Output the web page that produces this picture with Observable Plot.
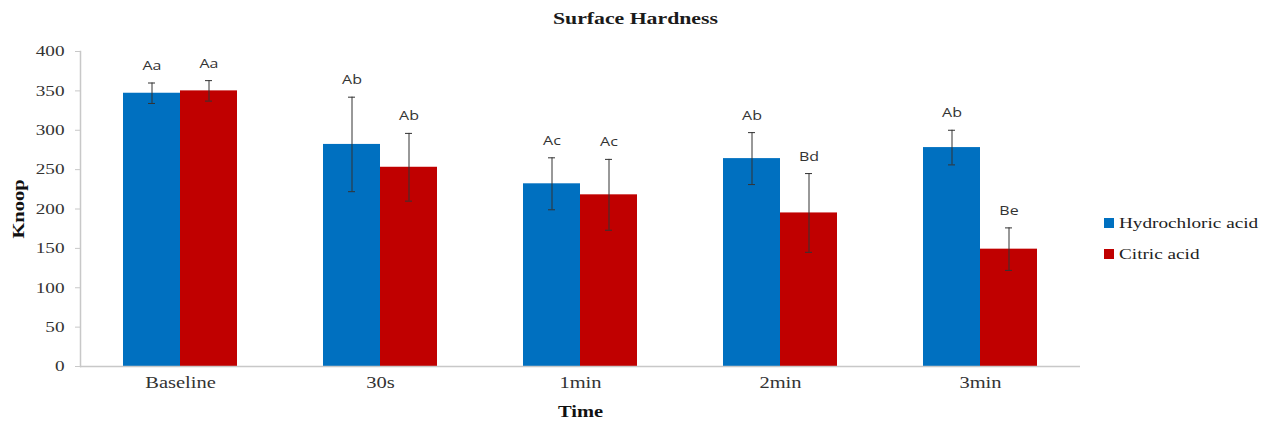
<!DOCTYPE html>
<html>
<head>
<meta charset="utf-8">
<script src="https://cdn.jsdelivr.net/npm/d3@7"></script>
<script src="https://cdn.jsdelivr.net/npm/@observablehq/plot@0.6"></script>
<style>
  body { margin: 0; background: #fff; }
  #wrap { position: relative; width: 1271px; height: 425px; background: #fff; }
  #title { height: 35px; font: bold 17px "Liberation Serif", serif; line-height: 37px; text-align: center; color: #1a1a1a; }
  #title span { display: inline-block; transform: scaleX(1.28); transform-origin: center; }
  #legend { position: absolute; left: 1104px; top: 214px; font: 15px "Liberation Serif", serif; color: #222; }
  #legend .item { display: flex; align-items: center; height: 18px; margin-bottom: 13px; }
  #legend .sw { width: 10px; height: 10px; margin-right: 5px; }
  #legend .lab { display: inline-block; transform: scaleX(1.28); transform-origin: left center; white-space: nowrap; }
  #chart svg { display: block; }
</style>
</head>
<body>
<div id="wrap">
  <div id="title"><span>Surface Hardness</span></div>
  <div id="chart"></div>
  <div id="legend"></div>
</div>
<script>
const times = ["Baseline", "30s", "1min", "2min", "3min"];
const series = ["Hydrochloric acid", "Citric acid"];
const colors = ["#0070C0", "#C00000"];
const hclMean = [347, 282, 232, 264, 278];
const hclErr = [13, 60, 33, 33, 22];
const hclLetters = ["Aa", "Ab", "Ac", "Ab", "Ab"];
const citMean = [350, 253, 218, 195, 149];
const citErr = [13, 43, 45, 50, 27];
const citLetters = ["Aa", "Ab", "Ac", "Bd", "Be"];
const yTicks = [0, 50, 100, 150, 200, 250, 300, 350, 400];

const data = [];
times.forEach((t, i) => {
  data.push({time: t, series: series[0], value: hclMean[i], err: hclErr[i], label: hclLetters[i]});
  data.push({time: t, series: series[1], value: citMean[i], err: citErr[i], label: citLetters[i]});
});

const chart = Plot.plot({
  width: 1271,
  height: 390,
  marginLeft: 79,
  marginRight: 191,
  marginTop: 16,
  marginBottom: 59,
  style: {fontFamily: "Liberation Serif, serif", fontSize: "15px", color: "#333", background: "#fff"},
  fx: {domain: times, padding: 0},
  x: {domain: series, paddingInner: 0, paddingOuter: 0.754, axis: null},
  y: {domain: [0, 400]},
  color: {domain: series, range: colors},
  marks: [
    Plot.barY(data, {fx: "time", x: "series", y: "value", fill: "series"}),
    Plot.ruleY([0], {stroke: "#c8c8c8", strokeWidth: 1.5}),
    Plot.frame({anchor: "left", facetAnchor: "left", stroke: "#c8c8c8", strokeWidth: 1.5}),
    Plot.ruleX(data, {fx: "time", x: "series", y1: d => d.value - d.err, y2: d => d.value + d.err, stroke: "#333", strokeWidth: 1}),
    Plot.tickY(data, {fx: "time", x: "series", y: d => d.value + d.err, stroke: "#333", insetLeft: 25, insetRight: 25}),
    Plot.tickY(data, {fx: "time", x: "series", y: d => d.value - d.err, stroke: "#333", insetLeft: 25, insetRight: 25}),
    Plot.text(data, {fx: "time", x: "series", y: d => d.value + d.err, text: "label", dy: -17, fontFamily: "Open Sans, sans-serif", fontSize: 12.5, fill: "#333"}),
    Plot.axisY({ticks: yTicks, tickSize: 5, tickPadding: 11, stroke: "#c8c8c8", fill: "#333", label: "Knoop", labelArrow: "none", labelAnchor: "center", labelOffset: 68, fontSize: 15}),
    Plot.axisFx({anchor: "bottom", tickSize: 0, tickPadding: 10, label: "Time", labelArrow: "none", labelAnchor: "center", labelOffset: 50, fill: "#333", fontSize: 16})
  ]
});
document.getElementById("chart").appendChild(chart);

chart.querySelectorAll("g[aria-label='y-axis label'] text, g[aria-label='fx-axis label'] text").forEach(t => {
  t.setAttribute("font-weight", "bold");
  t.setAttribute("fill", "#111");
  t.textContent = t.textContent.replace(/\s*[→↑←↓]\s*/g, "");
});
chart.querySelectorAll("g[aria-label='y-axis label'] text").forEach(t => t.setAttribute("font-size", 16));

// the reference image is horizontally stretched: widen glyphs to match
chart.querySelectorAll("text").forEach(t => {
  const len = t.getComputedTextLength();
  if (len > 0) {
    t.setAttribute("textLength", (len * 1.28).toFixed(1));
    t.setAttribute("lengthAdjust", "spacingAndGlyphs");
  }
});

const legend = document.getElementById("legend");
series.forEach((s, i) => {
  const item = document.createElement("div");
  item.className = "item";
  const sw = document.createElement("div");
  sw.className = "sw";
  sw.style.background = colors[i];
  const lab = document.createElement("span");
  lab.className = "lab";
  lab.textContent = s;
  item.appendChild(sw);
  item.appendChild(lab);
  legend.appendChild(item);
});
</script>
</body>
</html>
